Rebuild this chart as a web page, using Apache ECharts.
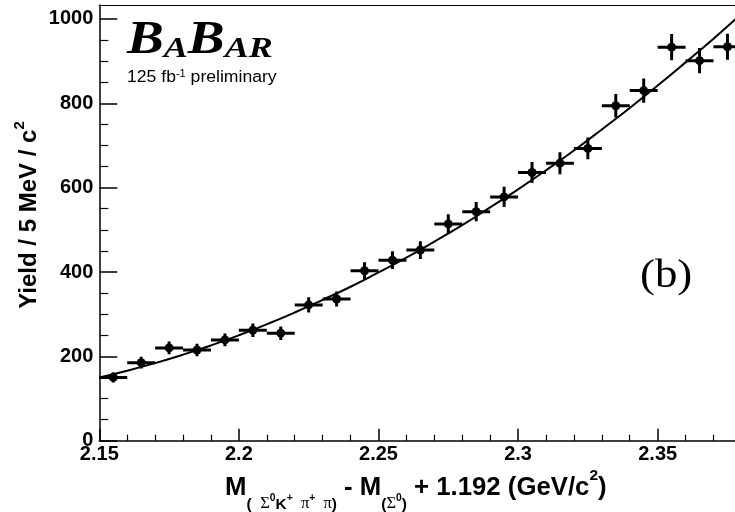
<!DOCTYPE html>
<html>
<head>
<meta charset="utf-8">
<script src="https://cdn.jsdelivr.net/npm/echarts@6/dist/echarts.min.js"></script>
<style>
html,body{margin:0;padding:0;background:#fff;}
#chart{width:735px;height:512px;}
</style>
</head>
<body>
<div id="chart"></div>
<script>
// ---- data ----
const binCenters = [2.155, 2.165, 2.175, 2.185, 2.195, 2.205, 2.215, 2.225, 2.235, 2.245, 2.255, 2.265,
                    2.275, 2.285, 2.295, 2.305, 2.315, 2.325, 2.335, 2.345, 2.355, 2.365, 2.375];
const yields = [150, 185, 220, 215, 239, 262, 255, 322, 336, 403, 428, 452,
                514, 543, 578, 636, 658, 693, 794, 830, 933, 901, 934];
const yieldErrors = [12, 14, 15, 15, 15, 16, 16, 18, 18, 20, 21, 21,
                     23, 23, 24, 25, 26, 26, 28, 29, 31, 30, 31];
const binHalfWidth = 0.005;
const fitX = [2.15, 2.16, 2.17, 2.18, 2.19, 2.20, 2.21, 2.22, 2.23, 2.24, 2.25, 2.26,
              2.27, 2.28, 2.29, 2.30, 2.31, 2.32, 2.33, 2.34, 2.35, 2.36, 2.37, 2.38];
const fitY = [150, 166, 184, 204, 226, 250, 276, 304, 334, 365, 399, 434,
              472, 511, 553, 596, 641, 688, 738, 789, 842, 897, 953, 1012];
// tick values and visible axis window (right part of the frame is cropped in the reference)
const xTickValues = [2.15, 2.2, 2.25, 2.3, 2.35];
const yTickValues = [0, 200, 400, 600, 800, 1000];
const xRange = [2.15, 2.3777];
const yRange = [0, 1033];

const SANS = 'Liberation Sans';
const SERIF = 'Liberation Serif';

const chart = echarts.init(document.getElementById('chart'), null, {renderer: 'canvas'});

const axisLabelStyle = {color: '#000', fontFamily: SANS, fontWeight: 'bold', fontSize: 20};

const option = {
  backgroundColor: '#ffffff',
  animation: false,
  grid: {left: 99.3, right: 0, top: 5, bottom: 71.3, show: false},
  xAxis: [
    {
      type: 'value', min: xRange[0], max: xRange[1], interval: 0.05,
      axisLine: {lineStyle: {color: '#000', width: 1.5}},
      axisTick: {inside: true, length: 12, customValues: xTickValues, lineStyle: {color: '#000', width: 1.5}},
      minorTick: {show: true, splitNumber: 5, length: 6, lineStyle: {color: '#000', width: 1.2}},
      splitLine: {show: false},
      minorSplitLine: {show: false},
      axisLabel: Object.assign({margin: 4, customValues: xTickValues,
        formatter: v => String(+(+v).toFixed(2))}, axisLabelStyle)
    },
    {
      type: 'value', position: 'top', min: xRange[0], max: xRange[1],
      axisLine: {show: true, onZero: false, lineStyle: {color: '#000', width: 1.2}},
      axisTick: {show: false}, axisLabel: {show: false}, splitLine: {show: false}
    }
  ],
  yAxis: {
    type: 'value', min: yRange[0], max: yRange[1], interval: 200,
    axisLine: {lineStyle: {color: '#000', width: 1.5}},
    axisTick: {inside: true, length: 18, customValues: yTickValues, lineStyle: {color: '#000', width: 1.5}},
    minorTick: {show: true, splitNumber: 4, length: 9, lineStyle: {color: '#000', width: 1.2}},
    splitLine: {show: false},
    axisLabel: Object.assign({margin: 6, customValues: yTickValues,
      formatter: v => String(v)}, axisLabelStyle)
  },
  series: [
    {
      type: 'line',
      xAxisIndex: 0,
      data: fitX.map((x, i) => [x, fitY[i]]),
      smooth: true,
      symbol: 'none',
      lineStyle: {color: '#000', width: 2},
      clip: true,
      z: 2
    },
    {
      type: 'custom',
      xAxisIndex: 0,
      data: binCenters.map((x, i) => [x, yields[i], yieldErrors[i]]),
      clip: true,
      z: 3,
      renderItem: function (params, api) {
        const x = api.value(0), y = api.value(1), e = api.value(2);
        const l = api.coord([x - binHalfWidth, y]);
        const r = api.coord([x + binHalfWidth, y]);
        const t = api.coord([x, y + e]);
        const b = api.coord([x, y - e]);
        const c = api.coord([x, y]);
        return {
          type: 'group',
          children: [
            {type: 'line', shape: {x1: l[0], y1: l[1], x2: r[0], y2: r[1]}, style: {stroke: '#000', lineWidth: 3}},
            {type: 'line', shape: {x1: t[0], y1: t[1], x2: b[0], y2: b[1]}, style: {stroke: '#000', lineWidth: 3}},
            {type: 'circle', shape: {cx: c[0], cy: c[1], r: 4.5}, style: {fill: '#000'}}
          ]
        };
      }
    }
  ],
  graphic: [
    {
      type: 'text', x: 225, y: 464, scaleX: 1.03, z: 10,
      style: {
        text: '{m|M}{sb|(  }{sg|Σ}{ss|0}{sb|K}{ss|+}{sg|  π}{ss|+}{sg|  π}{sb|)}{m| - M}{sb|(}{sg|Σ}{ss|0}{sb|)}{m| + 1.192 (GeV/c}{sp|2}{m|)}',
        align: 'left', verticalAlign: 'top', textAlign: 'left', textVerticalAlign: 'top',
        fill: '#000',
        rich: {
          m: {fontFamily: SANS, fontWeight: 'bold', fontSize: 25, lineHeight: 48, verticalAlign: 'middle', fill: '#000'},
          sb: {fontFamily: SANS, fontWeight: 'bold', fontSize: 15, lineHeight: 15, verticalAlign: 'bottom', fill: '#000'},
          sg: {fontFamily: SERIF, fontWeight: 'normal', fontSize: 16, lineHeight: 15, verticalAlign: 'bottom', fill: '#000'},
          ss: {fontFamily: SANS, fontWeight: 'bold', fontSize: 10, lineHeight: 10, padding: [0, 0, 9, 0], verticalAlign: 'bottom', fill: '#000'},
          sp: {fontFamily: SANS, fontWeight: 'bold', fontSize: 15, lineHeight: 15, padding: [4, 0, 0, 0], verticalAlign: 'top', fill: '#000'}
        }
      }
    },
    {
      type: 'text', x: 29, y: 215, rotation: Math.PI / 2, z: 10,
      style: {
        text: '{m|Yield / 5 MeV / c}{sp|2}',
        align: 'center', verticalAlign: 'middle', textAlign: 'center', textVerticalAlign: 'middle',
        fill: '#000',
        rich: {
          m: {fontFamily: SANS, fontWeight: 'bold', fontSize: 24, lineHeight: 40, verticalAlign: 'middle', fill: '#000'},
          sp: {fontFamily: SANS, fontWeight: 'bold', fontSize: 15, lineHeight: 15, padding: [3, 0, 0, 0], verticalAlign: 'top', fill: '#000'}
        }
      }
    },
    {
      type: 'text', x: 127, y: 18, scaleX: 1.2, z: 10,
      style: {
        text: '{b|B}{a|A}{b|B}{a|AR}',
        align: 'left', verticalAlign: 'top', textAlign: 'left', textVerticalAlign: 'top',
        fill: '#000',
        rich: {
          b: {fontFamily: SERIF, fontStyle: 'italic', fontWeight: 'bold', fontSize: 46, lineHeight: 46, verticalAlign: 'bottom', fill: '#000'},
          a: {fontFamily: SERIF, fontStyle: 'italic', fontWeight: 'bold', fontSize: 30, lineHeight: 39, verticalAlign: 'bottom', fill: '#000'}
        }
      }
    },
    {
      type: 'text', x: 127, y: 66, scaleX: 1.1, z: 10,
      style: {
        text: '{t|125 fb}{u|-1}{t| preliminary}',
        align: 'left', verticalAlign: 'top', textAlign: 'left', textVerticalAlign: 'top',
        fill: '#000',
        rich: {
          t: {fontFamily: SANS, fontSize: 16, lineHeight: 24, verticalAlign: 'middle', fill: '#000'},
          u: {fontFamily: SANS, fontSize: 10, lineHeight: 10, padding: [3, 0, 0, 0], verticalAlign: 'top', fill: '#000'}
        }
      }
    },
    {
      type: 'text', x: 640, y: 257, scaleX: 1.15, z: 10,
      style: {
        text: '(b)', fill: '#000', fontFamily: SERIF, fontSize: 39,
        align: 'left', verticalAlign: 'top', textAlign: 'left', textVerticalAlign: 'top'
      }
    }
  ]
};
chart.setOption(option);
</script>
</body>
</html>
